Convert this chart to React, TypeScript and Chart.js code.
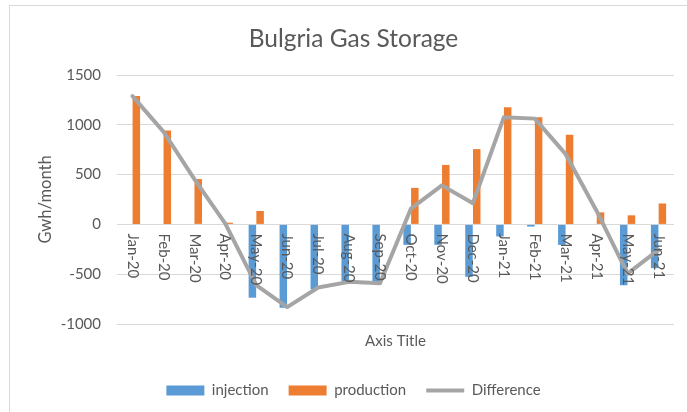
import React, { useEffect, useRef } from "react";
import { Chart, registerables } from "chart.js";

Chart.register(...registerables);

const categories = [
  "Jan-20", "Feb-20", "Mar-20", "Apr-20", "May-20", "Jun-20", "Jul-20", "Aug-20", "Sep-20",
  "Oct-20", "Nov-20", "Dec-20", "Jan-21", "Feb-21", "Mar-21", "Apr-21", "May-21", "Jun-21",
];
const injection = [0, 0, 0, 0, -736, -837, -651, -577, -585, -205, -205, -526, -121, -22, -206, 0, -611, -439];
const production = [1290, 944, 455, 17, 135, 0, 0, 0, 0, 367, 597, 756, 1177, 1076, 901, 121, 91, 210];
const difference = [1288, 932, 455, 8, -610, -830, -634, -577, -590, 159, 392, 212, 1075, 1062, 705, 135, -495, -255];
const yTicks = [-1000, -500, 0, 500, 1000, 1500];

const FONT = "Lato, 'Open Sans', sans-serif";
const TEXT = "#595959";
const GRID = "#D9D9D9";

const zeroLabelsPlugin = {
  id: "zeroLabels",
  afterDatasetsDraw(chart: any) {
    const xs = chart.scales.x;
    const ys = chart.scales.y;
    const ctx = chart.ctx;
    const y0 = ys.getPixelForValue(0);
    ctx.save();
    ctx.fillStyle = TEXT;
    ctx.font = `15px ${FONT}`;
    ctx.textAlign = "left";
    ctx.textBaseline = "middle";
    categories.forEach((c, i) => {
      const x = xs.getPixelForValue(i);
      ctx.save();
      ctx.translate(x, y0 + 9);
      ctx.rotate(Math.PI / 2);
      ctx.fillText(c, 0, 0);
      ctx.restore();
    });
    ctx.restore();
  },
};

export default function App() {
  const ref = useRef<HTMLCanvasElement | null>(null);
  useEffect(() => {
    if (!ref.current) return;
    const chart = new Chart(ref.current, {
      type: "bar",
      data: {
        labels: categories,
        datasets: [
          {
            type: "bar",
            label: "injection",
            data: injection,
            backgroundColor: "#5B9BD5",
            borderWidth: 0,
            pointStyle: "rect",
            order: 1,
          } as any,
          {
            type: "bar",
            label: "production",
            data: production,
            backgroundColor: "#ED7D31",
            borderWidth: 0,
            pointStyle: "rect",
            order: 1,
          } as any,
          {
            type: "line",
            label: "Difference",
            data: difference,
            borderColor: "#A5A5A5",
            backgroundColor: "#A5A5A5",
            borderWidth: 4,
            pointRadius: 0,
            pointHoverRadius: 0,
            pointStyle: "line",
            tension: 0,
            borderCapStyle: "round",
            borderJoinStyle: "round",
            order: 0,
          } as any,
        ],
      },
      options: {
        responsive: false,
        animation: false,
        devicePixelRatio: 1,
        layout: { padding: { left: 33, right: 13, top: 0, bottom: 4 } },
        datasets: {
          bar: { categoryPercentage: 0.5, barPercentage: 0.97 },
        },
        plugins: {
          tooltip: { enabled: false },
          title: {
            display: true,
            text: "Bulgria Gas Storage",
            color: TEXT,
            font: { family: FONT, size: 24.5, weight: "normal", lineHeight: 1.2 },
            padding: { top: 24, bottom: 21.6 },
          },
          legend: {
            position: "bottom",
            labels: {
              usePointStyle: true,
              pointStyleWidth: 38,
              boxHeight: 10,
              padding: 20,
              color: TEXT,
              font: { family: FONT, size: 15 },
              sort: (a: any, b: any) => a.datasetIndex - b.datasetIndex,
            },
          },
        },
        scales: {
          x: {
            type: "category",
            grid: { display: false },
            border: { display: false },
            ticks: { display: false },
            title: {
              display: true,
              text: "Axis Title",
              color: TEXT,
              font: { family: FONT, size: 15, lineHeight: 1.2 },
              padding: { top: 0, bottom: 13 },
            },
            afterFit(scale: any) {
              scale.height = 39;
            },
          },
          y: {
            min: -1000,
            max: 1500,
            afterBuildTicks(scale: any) {
              scale.ticks = yTicks.map((v) => ({ value: v }));
            },
            grid: { color: GRID, lineWidth: 1, drawTicks: false },
            border: { display: false },
            ticks: {
              color: TEXT,
              font: { family: FONT, size: 15 },
              padding: 16,
              callback: (v: any) => String(v),
            },
            title: {
              display: true,
              text: "Gwh/month",
              color: TEXT,
              font: { family: FONT, size: 16.5, lineHeight: 1.2 },
              padding: { top: 3, bottom: 0 },
            },
            afterFit(scale: any) {
              scale.width = 84;
            },
          },
        },
      } as any,
      plugins: [zeroLabelsPlugin],
    });
    return () => chart.destroy();
  }, []);

  return (
    <div style={{ position: "fixed", left: 0, top: 0, width: 687, height: 412, background: "#fff", overflow: "hidden" }}>
      <div
        style={{
          position: "absolute",
          left: 9,
          top: 5,
          width: 700,
          height: 420,
          border: `1px solid ${GRID}`,
          boxSizing: "border-box",
        }}
      />
      <canvas ref={ref} width={687} height={412} style={{ position: "absolute", left: 0, top: 0 }} />
    </div>
  );
}
